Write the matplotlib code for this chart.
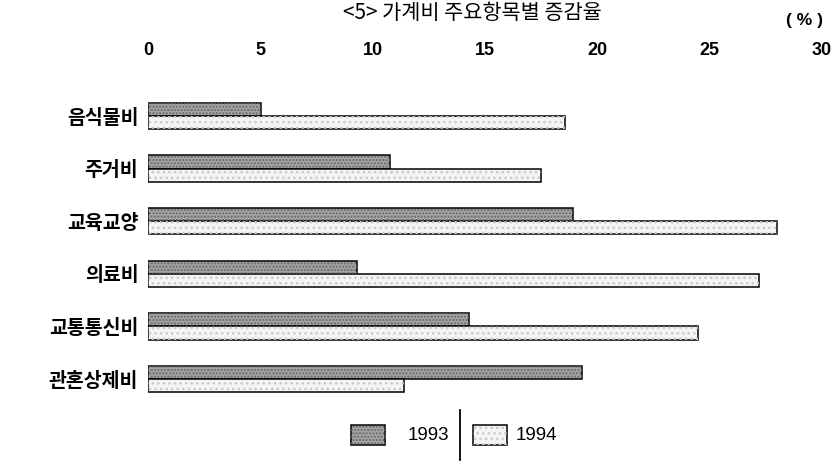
import numpy as np
import matplotlib
matplotlib.use('Agg')
import matplotlib.pyplot as plt
from matplotlib.patches import Rectangle
from matplotlib.lines import Line2D

plt.rcParams['font.family'] = ['Noto Sans CJK KR', 'DejaVu Sans']

# data
cats = ['음식물비', '주거비', '교육교양', '의료비', '교통통신비', '관혼상제비']
v1993 = [5.05, 10.75, 18.9, 9.3, 14.3, 19.3]
v1994 = [18.55, 17.5, 28.0, 27.2, 24.5, 11.4]
xticks = [0, 5, 10, 15, 20, 25, 30]
title = '<5> 가계비 주요항목별 증감율'

W, H = 833, 461
fig = plt.figure(figsize=(W/100, H/100), dpi=100)

# axes placed in pixel terms
x0, x1 = 148, 822
top, bot = 90, 405
ax = fig.add_axes([x0/W, 1-bot/H, (x1-x0)/W, (bot-top)/H])

c0, step = 116, 52.6
ax.set_ylim((bot-c0)/step, -(c0-top)/step)
ax.set_xlim(0, 30)

y = np.arange(len(cats))
h = 0.25
dark = '#a4a4a4'
light = '#f4f4f4'

ax.barh(y-h/2, v1993, height=h, color=dark, edgecolor='black', linewidth=1.1, zorder=2)
ax.barh(y-h/2, v1993, height=h, color='none', edgecolor='#666666', hatch='.....', linewidth=0, zorder=3)
ax.barh(y+h/2, v1994, height=h, color=light, edgecolor='black', linewidth=1.1, zorder=2)
ax.barh(y+h/2, v1994, height=h, color='none', edgecolor='#c8c8c8', hatch='...', linewidth=0, zorder=3)

for s in ax.spines.values():
    s.set_visible(False)

ax.xaxis.tick_top()
ax.set_xticks(xticks)
ax.set_xticklabels([str(t) for t in xticks], family='Liberation Sans', fontsize=13, fontweight='bold')
ax.tick_params(axis='x', length=0, pad=22)
ax.set_yticks(y)
ax.set_yticklabels(cats, fontsize=14, fontweight='bold')
ax.tick_params(axis='y', length=0, pad=7)

fig.text(472/W, 1-13/H, title, ha='center', va='center', fontsize=15, fontweight='medium')
fig.text(805/W, 1-21/H, '( % )', ha='center', va='center', fontsize=12.5, family='Liberation Sans', fontweight='bold')

# legend
def box(px, face, hc, hatch):
    r = Rectangle((px/W, 1-445/H), 34/W, 20/H, transform=fig.transFigure,
                  facecolor=face, edgecolor='black', linewidth=1.1)
    fig.add_artist(r)
    r2 = Rectangle((px/W, 1-445/H), 34/W, 20/H, transform=fig.transFigure,
                   facecolor='none', edgecolor=hc, hatch=hatch, linewidth=0)
    fig.add_artist(r2)

box(351, dark, '#666666', '.....')
fig.text(428/W, 1-435/H, '1993', ha='center', va='center', fontsize=13.5, family='Liberation Sans')
fig.add_artist(Line2D([460/W, 460/W], [1-410/H, 1-460/H], transform=fig.transFigure,
                      color='black', linewidth=1.3))
box(473, light, '#c8c8c8', '...')
fig.text(536/W, 1-435/H, '1994', ha='center', va='center', fontsize=13.5, family='Liberation Sans')

fig.savefig('out.png', dpi=100)
